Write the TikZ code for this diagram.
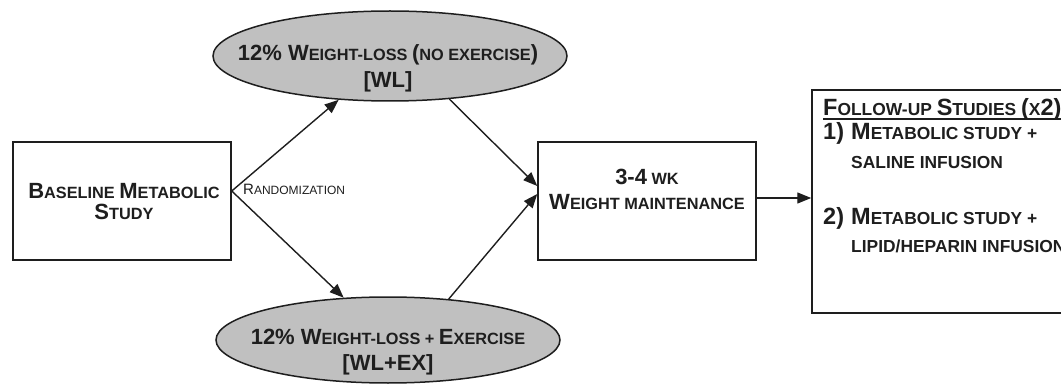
\documentclass[tikz,border=0pt]{standalone}
\usepackage{fontspec}
\setmainfont{Liberation Sans}
\usetikzlibrary{arrows.meta,shapes.geometric}
\newcommand\BC[1]{{\fontsize{22}{24}\selectfont #1}}
\newcommand\FB[1]{{\fontsize{23.5}{25}\selectfont #1}}
\definecolor{ellfill}{RGB}{192,192,192}
\definecolor{ink}{RGB}{30,30,30}
\begin{document}
\begin{tikzpicture}[x=1pt,y=-1pt,
  box/.style={draw=ink, line width=1.5pt, minimum width=218pt, minimum height=118pt, inner sep=0pt},
  ell/.style={ellipse, draw=ink, line width=1.5pt, fill=ellfill, inner sep=0pt},
  txt/.style={anchor=base, inner sep=0pt, text=ink, font=\fontsize{16.3}{18}\selectfont\bfseries},
  ftxt/.style={anchor=base west, inner sep=0pt, text=ink, font=\fontsize{17.4}{19}\selectfont\bfseries},
  arr/.style={draw=ink, line width=1.4pt, -{Triangle[length=14pt,width=11pt]}}
]
\useasboundingbox (0,0) rectangle (1061,385);
\clip (0,0) rectangle (1061,385);
% shapes
\node[box] (base) at (122,201) {};
\node[box] (mbox) at (647,201) {};
\node[draw=ink, line width=1.5pt, minimum width=290pt, minimum height=223pt, inner sep=0pt] (fu) at (957,201.5) {};
\node[ell, minimum width=354pt, minimum height=90pt] (wl) at (390,56) {};
\node[ell, minimum width=344pt, minimum height=86pt] (wlex) at (388,340) {};
% texts
\node[txt] (b1) at (124,198) {\BC{B}ASELINE \BC{M}ETABOLIC};
\node[txt] (b2) at (124,219) {\BC{S}TUDY};
\node[txt] (w1) at (388,61) {\BC{12\% W}EIGHT-LOSS \BC{(}NO EXERCISE\BC{)}};
\node[txt] (w2) at (388,88) {\BC{[WL]}};
\node[txt] (x1) at (388,344) {\BC{12\% W}EIGHT-LOSS + \BC{E}XERCISE};
\node[txt] (x2) at (388,370) {\BC{[WL+EX]}};
\node[txt] (m1) at (647,185) {\BC{3-4} WK};
\node[txt] (m2) at (647,209) {\BC{W}EIGHT MAINTENANCE};
\node[ftxt] (f1) at (823,116) {\FB{F}OLLOW-UP \FB{S}TUDIES \FB{(}X\FB{2)}};
\draw[ink, line width=1.2pt] ([yshift=-3pt]f1.base west) -- ([yshift=-3pt]f1.base east);
\node[ftxt] (f2) at (823,140) {\makebox[28pt][l]{\FB{1)}}\FB{M}ETABOLIC STUDY +};
\node[ftxt] (f3) at (851,168) {SALINE INFUSION};
\node[ftxt] (f4) at (823,225) {\makebox[28pt][l]{\FB{2)}}\FB{M}ETABOLIC STUDY +};
\node[ftxt] (f5) at (851,252) {LIPID/HEPARIN INFUSION};
\node[anchor=base west, inner sep=0pt, text=ink, font=\fontsize{12}{13}\selectfont] (rnd) at (243,195) {{\fontsize{15}{16}\selectfont R}ANDOMIZATION};
% connectors
\coordinate (rz) at ([yshift=10pt]base.east);
\draw[arr] (rz) -- (wl);
\draw[arr] (rz) -- (wlex);
\draw[arr] (wl.-36) -- ([yshift=15pt]mbox.west);
\draw[arr] (wlex.34) -- ([yshift=7pt]mbox.west);
\draw[arr] ([yshift=3pt]mbox.east) -- ([yshift=3pt]mbox.east -| fu.west);
\end{tikzpicture}
\end{document}
